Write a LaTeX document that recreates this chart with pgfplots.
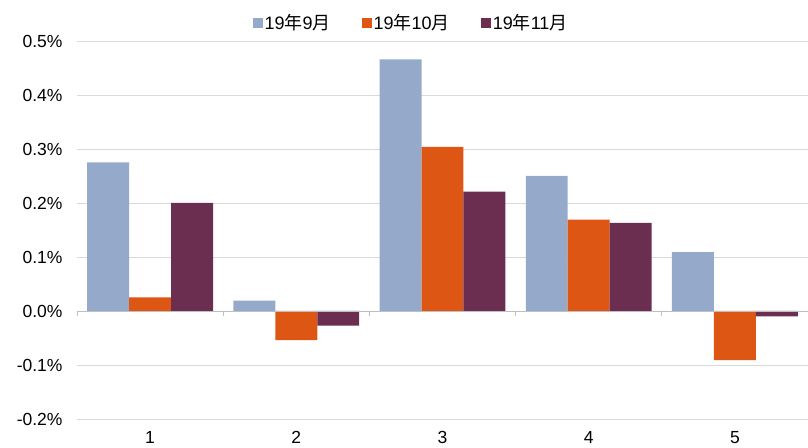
\documentclass[border=0pt]{standalone}
\usepackage{pgfplots}
\pgfplotsset{compat=1.18}
\usepackage{fontspec}
\setmainfont{Liberation Sans}
\newfontfamily\cjk{Noto Sans CJK SC}
\definecolor{cBlue}{RGB}{149,169,202}
\definecolor{cOrange}{RGB}{221,86,20}
\definecolor{cPurple}{RGB}{107,45,80}
\definecolor{cGrid}{RGB}{217,217,217}
\definecolor{cZero}{RGB}{191,191,191}
\begin{document}
\begin{tikzpicture}
\begin{axis}[
  name=ax, at={(0,0)}, anchor=south west,
  scale only axis, width=731bp, height=378bp,
  xmin=0.5, xmax=5.5, ymin=-0.2, ymax=0.5,
  ybar=0pt, bar width=0.287,
  xtick={1,2,3,4,5},
  ytick={-0.2,-0.1,0,0.1,0.2,0.3,0.4,0.5},
  axis line style={draw=none},
  tick style={draw=none},
  ymajorgrids, grid style={cGrid, line width=0.8bp},
  /pgf/number format/assume math mode=true,
  yticklabel={\pgfmathprintnumber[fixed,fixed zerofill,precision=1]{\tick}\%},
  ticklabel style={font=\fontsize{17.5bp}{20bp}\selectfont, text=black},
  yticklabel style={xshift=-11bp},
  xticklabel style={yshift=-4.5bp},
  legend style={at={(0.457,1.0476)}, anchor=center, draw=none, fill=none,
    font=\fontsize{18bp}{21bp}\selectfont, legend columns=3,
    nodes={inner xsep=2bp},
    /tikz/every even column/.append style={column sep=29bp}},
  legend image code/.code={\fill[#1,draw=none] (0bp,-5bp) rectangle (10bp,5bp);},
]
\addplot[fill=cBlue, draw=none] coordinates {(1,0.275) (2,0.019) (3,0.466) (4,0.250) (5,0.109)};
\addplot[fill=cOrange, draw=none] coordinates {(1,0.025) (2,-0.054) (3,0.304) (4,0.169) (5,-0.091)};
\addplot[fill=cPurple, draw=none] coordinates {(1,0.200) (2,-0.027) (3,0.221) (4,0.163) (5,-0.010)};
\legend{19{\cjk 年}9{\cjk 月}, 19{\cjk 年}10{\cjk 月}, 19{\cjk 年}11{\cjk 月}}
\draw[cZero, line width=0.8bp] (axis cs:0.5,0) -- (axis cs:5.5,0);
\pgfplotsinvokeforeach{0.5,1.5,2.5,3.5,4.5,5.5}{
  \draw[cZero, line width=0.8bp] (axis cs:#1,0) -- ++(0pt,-5bp);
}
\end{axis}
\pgfresetboundingbox
\path (-77bp,-29bp) rectangle (731bp,419bp);
\end{tikzpicture}
\end{document}
